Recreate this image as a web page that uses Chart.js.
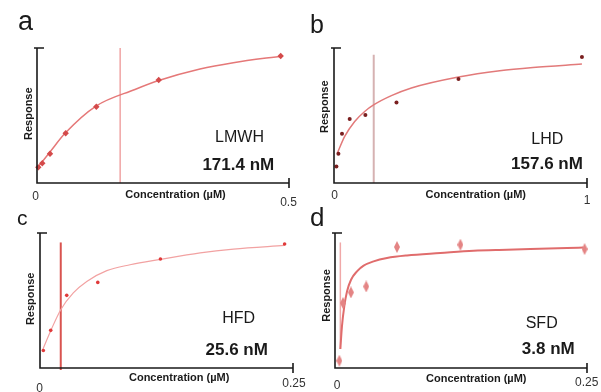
<!DOCTYPE html>
<html>
<head>
<meta charset="utf-8">
<script src="https://cdn.jsdelivr.net/npm/chart.js@4/dist/chart.umd.min.js"></script>
<style>
  body { margin: 0; background: #fff; width: 601px; height: 392px; overflow: hidden; position: relative; }
  canvas { position: absolute; }
  #pa { left: 0; top: 0; }
  #pb { left: 300px; top: 0; }
  #pc { left: 0; top: 200px; }
  #pd { left: 300px; top: 200px; }
</style>
</head>
<body>
<canvas id="pc" width="312" height="192"></canvas>
<canvas id="pd" width="301" height="192"></canvas>
<canvas id="pa" width="300" height="210"></canvas>
<canvas id="pb" width="301" height="210"></canvas>
<script>
// panel labels and texts
const letters = ["a", "b", "c", "d"];
const names = ["LMWH", "LHD", "HFD", "SFD"];
const kdLabels = ["171.4 nM", "157.6 nM", "25.6 nM", "3.8 nM"];
const xMax = [0.5, 1, 0.25, 0.25];
const xMaxLabels = ["0.5", "1", "0.25", "0.25"];

// a - LMWH
const aConc = [0.0026, 0.0105, 0.0258, 0.0569, 0.1177, 0.2415, 0.4835];
const aResp = [11.6, 14.6, 21.7, 36.8, 56.5, 76.3, 94.1];
const aFitConc = [0.0014, 0.0258, 0.0556, 0.1171, 0.1944, 0.2415, 0.3234, 0.3895, 0.4875];
const aFitResp = [11.6, 23.0, 36.8, 57.0, 69.3, 75.9, 84.4, 89.1, 94.1];
const aKd = 0.165, aKdSpan = [0, 100];

// b - LHD
const bConc = [0.0095, 0.0174, 0.0316, 0.062, 0.124, 0.247, 0.492, 0.980];
const bResp = [12.3, 21.7, 36.5, 47.4, 50.4, 59.7, 77.0, 93.3];
const bFitConc = [0.0134, 0.0423, 0.0818, 0.1213, 0.158, 0.2269, 0.3059, 0.4917, 0.655, 0.7866, 0.980];
const bFitResp = [22.2, 34.5, 45.6, 53.0, 58.0, 64.7, 70.4, 78.5, 83.2, 85.6, 88.1];
const bKd = 0.157, bKdSpan = [0, 95];

// c - HFD
const cConc = [0.0033, 0.0106, 0.0264, 0.0571, 0.119, 0.2417];
const cResp = [13.0, 27.9, 53.8, 63.4, 80.7, 91.9];
const cFitConc = [0.0027, 0.0106, 0.0205, 0.0329, 0.0462, 0.066, 0.089, 0.119, 0.1583, 0.1912, 0.2417];
const cFitResp = [13.6, 27.6, 43.2, 55.6, 64.1, 72.1, 76.5, 80.5, 85.3, 88.1, 90.8];
const cKd = 0.0205, cKdSpan = [-1.5, 93];

// d - SFD
const dConc = [0.0043, 0.0079, 0.0158, 0.0310, 0.0615, 0.1244, 0.2476];
const dResp = [5.4, 48.1, 56.0, 60.4, 89.6, 91.3, 88.1];
const dFitConc = [0.0053, 0.0069, 0.0092, 0.0119, 0.0159, 0.0218, 0.0284, 0.0383, 0.0516, 0.0714, 0.1045, 0.1375, 0.1706, 0.2302, 0.2463];
const dFitResp = [14.1, 30.8, 45.6, 56.7, 65.4, 71.6, 75.8, 79.0, 81.5, 83.4, 85.2, 86.9, 87.6, 88.9, 89.2];
const dKd = 0.0053, dKdSpan = [14.1, 93];

const FONT = '"Liberation Sans", Arial, sans-serif';
const INK = "#1a1a1a";

function xy(xs, ys) {
  return xs.map((x, i) => ({ x: x, y: ys[i] }));
}

function diamond(w, h, color) {
  const c = document.createElement("canvas");
  c.width = w; c.height = h;
  const g = c.getContext("2d");
  g.fillStyle = color;
  g.beginPath();
  g.moveTo(w / 2, 0); g.lineTo(w, h / 2); g.lineTo(w / 2, h); g.lineTo(0, h / 2);
  g.closePath();
  g.fill();
  return c;
}

// axes, ticks and all the text of a panel
const panelDecor = {
  id: "panelDecor",
  afterDraw(chart) {
    const o = chart.options.plugins.panelDecor;
    const ctx = chart.ctx;
    const ca = chart.chartArea;
    ctx.save();
    ctx.strokeStyle = INK;
    ctx.lineWidth = 1.6;
    ctx.beginPath();
    ctx.moveTo(ca.left - 3, ca.top); ctx.lineTo(ca.left + 7, ca.top);
    ctx.moveTo(ca.left, ca.top); ctx.lineTo(ca.left, ca.bottom); ctx.lineTo(ca.right, ca.bottom);
    ctx.moveTo(ca.right, ca.bottom - 5); ctx.lineTo(ca.right, ca.bottom + 5);
    ctx.stroke();

    ctx.textAlign = "center";
    ctx.textBaseline = "alphabetic";
    ctx.font = "12px " + FONT;
    ctx.fillStyle = "#333";
    ctx.fillText("0", o.zeroX, o.zeroY);
    ctx.fillText(xMaxLabels[o.i], o.maxX, o.maxY);

    ctx.fillStyle = INK;
    ctx.font = "bold 11px " + FONT;
    ctx.textBaseline = "middle";
    ctx.fillText("Concentration (µM)", o.concX, o.concY);
    ctx.save();
    ctx.translate(o.respX, o.respY);
    ctx.rotate(-Math.PI / 2);
    ctx.fillText("Response", 0, 0);
    ctx.restore();

    ctx.font = "16px " + FONT;
    ctx.fillText(names[o.i], o.nameX, o.nameY);
    ctx.font = "bold 17px " + FONT;
    ctx.fillText(kdLabels[o.i], o.kdX, o.kdY);

    ctx.textAlign = "left";
    ctx.textBaseline = "alphabetic";
    ctx.font = o.letterSize + "px " + FONT;
    ctx.fillText(letters[o.i], o.letterX, o.letterY);
    ctx.restore();
  }
};

function makePanel(id, p) {
  return new Chart(document.getElementById(id), {
    type: "scatter",
    data: {
      datasets: [
        {
          data: xy(p.x, p.y),
          pointStyle: p.pointStyle,
          pointRadius: p.pointRadius,
          backgroundColor: p.pointColor,
          borderWidth: 0,
          clip: false
        },
        {
          data: xy(p.fitX, p.fitY),
          showLine: true,
          cubicInterpolationMode: "monotone",
          borderColor: p.fitColor,
          borderWidth: p.fitWidth,
          pointRadius: 0,
          clip: false
        },
        {
          data: xy([p.kd, p.kd], p.kdSpan),
          showLine: true,
          borderColor: p.kdColor,
          borderWidth: p.kdWidth,
          pointRadius: 0,
          clip: false
        }
      ]
    },
    options: {
      responsive: false,
      animation: false,
      devicePixelRatio: 1,
      events: [],
      layout: { padding: p.pad },
      scales: {
        x: { type: "linear", min: 0, max: xMax[p.decor.i], display: false },
        y: { type: "linear", min: 0, max: 100, display: false }
      },
      plugins: {
        legend: { display: false },
        tooltip: { enabled: false },
        panelDecor: p.decor
      }
    },
    plugins: [panelDecor]
  });
}

makePanel("pa", {
  x: aConc, y: aResp, fitX: aFitConc, fitY: aFitResp, kd: aKd, kdSpan: aKdSpan,
  pointStyle: "rectRot", pointRadius: 3.2, pointColor: "#d44a4a",
  fitColor: "#e57878", fitWidth: 1.5, kdColor: "#f0a4a4", kdWidth: 1.5,
  pad: { left: 37, top: 48, right: 11, bottom: 27 },
  decor: { i: 0, zeroX: 35.5, zeroY: 199.5, maxX: 288.5, maxY: 205.5,
    concX: 175.5, concY: 195, respX: 28.5, respY: 113.7,
    nameX: 239.5, nameY: 137.3, kdX: 238.3, kdY: 165.7,
    letterX: 18, letterY: 30, letterSize: 27 }
});

makePanel("pb", {
  x: bConc, y: bResp, fitX: bFitConc, fitY: bFitResp, kd: bKd, kdSpan: bKdSpan,
  pointStyle: "circle", pointRadius: 2, pointColor: "#7a1f1f",
  fitColor: "#e27a7a", fitWidth: 1.5, kdColor: "#d6b2b2", kdWidth: 2,
  pad: { left: 34, top: 48, right: 14, bottom: 27 },
  decor: { i: 1, zeroX: 34.5, zeroY: 198.6, maxX: 287, maxY: 204,
    concX: 175.8, concY: 195, respX: 25.3, respY: 106.7,
    nameX: 247.3, nameY: 140, kdX: 247, kdY: 164.3,
    letterX: 10, letterY: 33, letterSize: 25 }
});

makePanel("pc", {
  x: cConc, y: cResp, fitX: cFitConc, fitY: cFitResp, kd: cKd, kdSpan: cKdSpan,
  pointStyle: "circle", pointRadius: 1.8, pointColor: "#e03a3a",
  fitColor: "#f2a2a2", fitWidth: 1.2, kdColor: "#d9534f", kdWidth: 2,
  pad: { left: 40, top: 33, right: 19, bottom: 24 },
  decor: { i: 2, zeroX: 39.7, zeroY: 191.5, maxX: 294, maxY: 187,
    concX: 179.2, concY: 178, respX: 30.8, respY: 98.8,
    nameX: 238.7, nameY: 118.3, kdX: 236.7, kdY: 150.7,
    letterX: 17, letterY: 25, letterSize: 21 }
});

makePanel("pd", {
  x: dConc, y: dResp, fitX: dFitConc, fitY: dFitResp, kd: dKd, kdSpan: dKdSpan,
  pointStyle: diamond(6, 12, "#e48484"), pointRadius: 4, pointColor: "#e48484",
  fitColor: "#e06c6c", fitWidth: 2, kdColor: "#f0a8a8", kdWidth: 1.5,
  pad: { left: 35, top: 33, right: 14, bottom: 24 },
  decor: { i: 3, zeroX: 37, zeroY: 188.6, maxX: 286.7, maxY: 186.3,
    concX: 176.3, concY: 178.5, respX: 26.7, respY: 95.5,
    nameX: 241.7, nameY: 123.3, kdX: 248.3, kdY: 149,
    letterX: 10, letterY: 26, letterSize: 26 }
});
</script>
</body>
</html>
